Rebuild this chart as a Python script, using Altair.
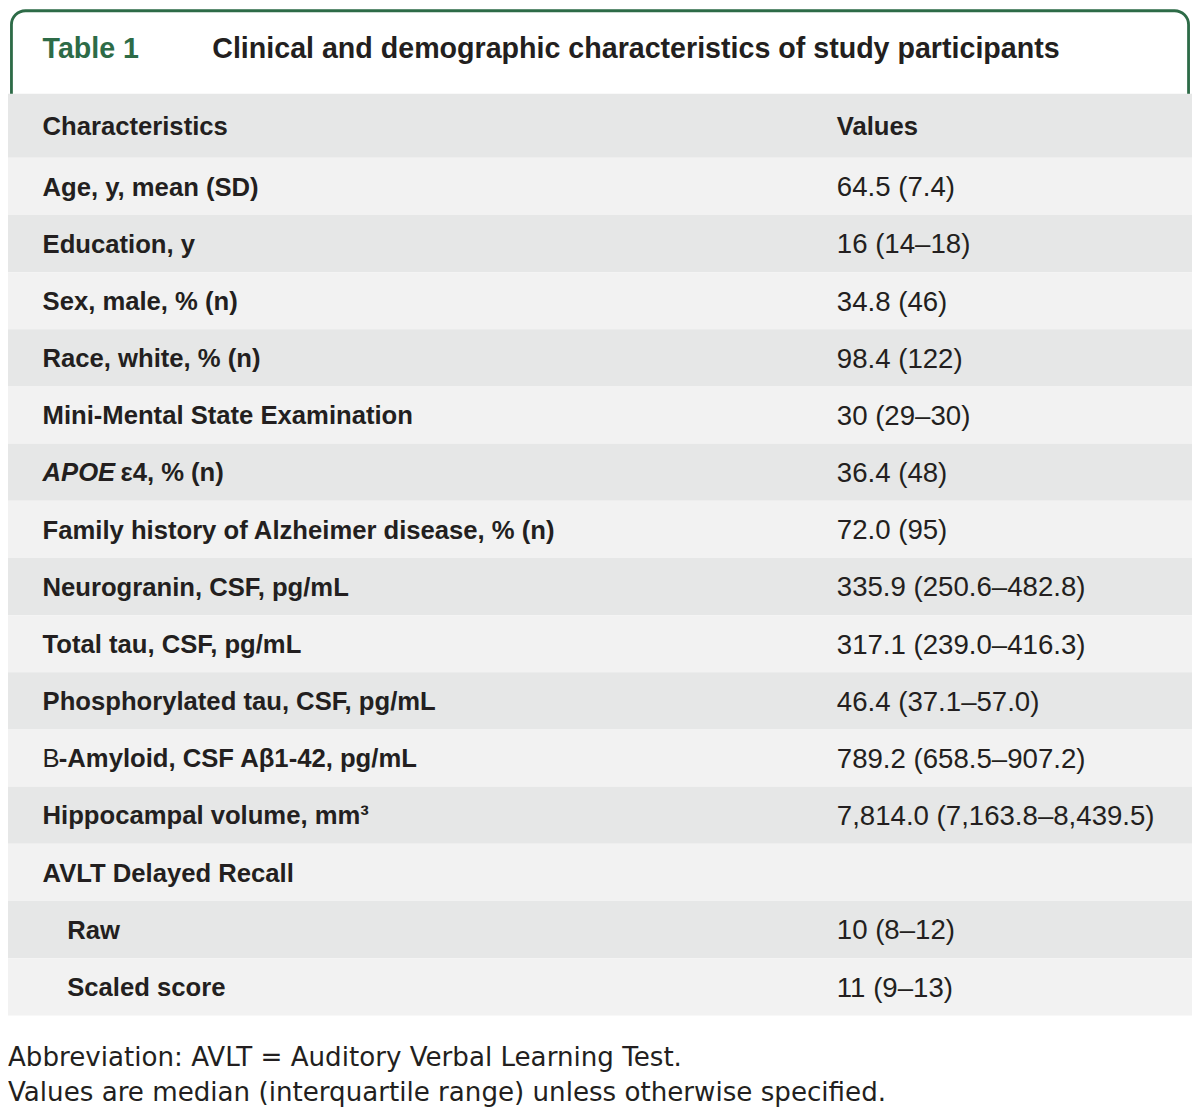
import altair as alt
import pandas as pd

# ---------------- content ----------------
table_tag = "Table 1"
table_title = "Clinical and demographic characteristics of study participants"
header_labels = ["Characteristics", "Values"]
characteristics = [
    "Age, y, mean (SD)",
    "Education, y",
    "Sex, male, % (n)",
    "Race, white, % (n)",
    "Mini-Mental State Examination",
    "APOE ε4, % (n)",
    "Family history of Alzheimer disease, % (n)",
    "Neurogranin, CSF, pg/mL",
    "Total tau, CSF, pg/mL",
    "Phosphorylated tau, CSF, pg/mL",
    "Β-Amyloid, CSF Aβ1-42, pg/mL",
    "Hippocampal volume, mm³",
    "AVLT Delayed Recall",
    "Raw",
    "Scaled score",
]
values = [
    "64.5 (7.4)",
    "16 (14–18)",
    "34.8 (46)",
    "98.4 (122)",
    "30 (29–30)",
    "36.4 (48)",
    "72.0 (95)",
    "335.9 (250.6–482.8)",
    "317.1 (239.0–416.3)",
    "46.4 (37.1–57.0)",
    "789.2 (658.5–907.2)",
    "7,814.0 (7,163.8–8,439.5)",
    "",
    "10 (8–12)",
    "11 (9–13)",
]
sub_rows = ["Raw", "Scaled score"]
# label prefixes drawn in a different style: prefix -> (fontStyle, fontWeight, advance in ref px)
styled_prefixes = {
    "APOE": ("italic", "bold", 79),
    "Β": ("normal", "normal", 16.5),
}
footnotes = [
    "Abbreviation: AVLT = Auditory Verbal Learning Test.",
    "Values are median (interquartile range) unless otherwise specified.",
]

# ---------------- layout / style ----------------
REF_W, REF_H = 1200, 1119          # reference canvas units
PAGE_W, PAGE_H = 1184, 1103        # drawable area inside the 8px page margin
FS = PAGE_W / REF_W                # font scale
GREEN = "#2d6b47"
INK = "#231f20"
LIGHT, DARK = "#f2f2f2", "#e6e7e7"
HEADER_TOP, HEADER_BOT, ROW_H = 87, 152, 58
LABEL_X, INDENT_X, VALUE_X, TITLE_X = 35, 60, 840, 207

xs = alt.Scale(domain=[0, REF_W], nice=False, zero=False)
ys = alt.Scale(domain=[0, REF_H], nice=False, zero=False, reverse=True)


def X(field=None, datum=None):
    if datum is not None:
        return alt.X(datum=datum, type="quantitative", scale=xs, axis=None)
    return alt.X(field, type="quantitative", scale=xs, axis=None)


def Y(field=None, datum=None):
    if datum is not None:
        return alt.Y(datum=datum, type="quantitative", scale=ys, axis=None)
    return alt.Y(field, type="quantitative", scale=ys, axis=None)


def text_layer(df, field, x, y, size, weight="bold", style="normal", color=INK,
               font="Liberation Sans", dx=0):
    return alt.Chart(df).mark_text(
        align="left", baseline="alphabetic", font=font, fontWeight=weight,
        fontStyle=style, fontSize=size * FS, color=color, dx=dx * FS,
    ).encode(x=x, y=y, text=f"{field}:N")


one = pd.DataFrame({"k": [0]})

# ---- rows table built from the lists ----
rows = pd.DataFrame({"label": characteristics, "value": values})
rows["i"] = range(len(rows))
rows["top"] = HEADER_BOT + rows["i"] * ROW_H
rows["bottom"] = rows["top"] + ROW_H
rows["base_label"] = rows["top"] + ROW_H / 2 + 9.3
rows["base_value"] = rows["top"] + ROW_H / 2 + 10
rows["shade"] = ["light" if i % 2 == 0 else "dark" for i in rows["i"]]
rows["lx"] = [INDENT_X if l in sub_rows else LABEL_X for l in rows["label"]]


def prefix_of(label):
    for p in styled_prefixes:
        if label.startswith(p):
            return p
    return None


rows["main"] = [("" if prefix_of(l) else l) for l in rows["label"]]

# ---- title tab ----
tab = alt.Chart(one).mark_rect(
    fill="white", stroke=GREEN, strokeWidth=2.8,
    cornerRadiusTopLeft=14, cornerRadiusTopRight=14,
).encode(x=X(datum=3.5), x2=alt.X2(datum=1196.5), y=Y(datum=2.8), y2=alt.Y2(datum=110))

tag_text = text_layer(pd.DataFrame({"t": [table_tag]}), "t", X(datum=LABEL_X), Y(datum=51), 29, color=GREEN)
title_text = text_layer(pd.DataFrame({"t": [table_title]}), "t", X(datum=TITLE_X), Y(datum=51), 29)

# ---- header ----
header_bg = alt.Chart(one).mark_rect(fill=DARK).encode(
    x=X(datum=0), x2=alt.X2(datum=REF_W), y=Y(datum=HEADER_TOP), y2=alt.Y2(datum=HEADER_BOT)
)
header_df = pd.DataFrame({"t": header_labels, "x": [LABEL_X, VALUE_X]})
header_df["y"] = (HEADER_TOP + HEADER_BOT) / 2 + 9.3
header_text = text_layer(header_df, "t", X("x"), Y("y"), 26)

# ---- body ----
row_bg = alt.Chart(rows).mark_rect().encode(
    x=X(datum=0), x2=alt.X2(datum=REF_W),
    y=Y("top"), y2=alt.Y2("bottom"),
    color=alt.Color("shade:N", scale=alt.Scale(domain=["light", "dark"], range=[LIGHT, DARK]), legend=None),
)
label_text = text_layer(rows, "main", X("lx"), Y("base_label"), 26)

prefix_layers = []
for p, (pstyle, pweight, adv) in styled_prefixes.items():
    sub = rows[rows["label"].str.startswith(p)].copy()
    sub["pre"] = p
    sub["rest"] = sub["label"].str[len(p):].str.lstrip()
    prefix_layers.append(text_layer(sub, "pre", X("lx"), Y("base_label"), 26, weight=pweight, style=pstyle))
    prefix_layers.append(text_layer(sub, "rest", X("lx"), Y("base_label"), 26, dx=adv))

value_text = text_layer(rows, "value", X(datum=VALUE_X), Y("base_value"), 28, weight="normal")

# ---- footnotes ----
foot_df = pd.DataFrame({"t": footnotes, "j": range(len(footnotes))})
foot_df["y"] = 1073 + foot_df["j"] * 36
foot_text = text_layer(foot_df, "t", X(datum=0), Y("y"), 26.5, weight="normal", font="DejaVu Sans")

chart = alt.layer(
    tab, tag_text, title_text, header_bg, header_text,
    row_bg, label_text, *prefix_layers, value_text, foot_text,
).properties(
    width=PAGE_W, height=PAGE_H, padding=0,
    autosize=alt.AutoSizeParams(type="none"), background="white",
).configure_view(stroke=None)

chart.save("out.html", embed_options={"renderer": "svg", "actions": False})
